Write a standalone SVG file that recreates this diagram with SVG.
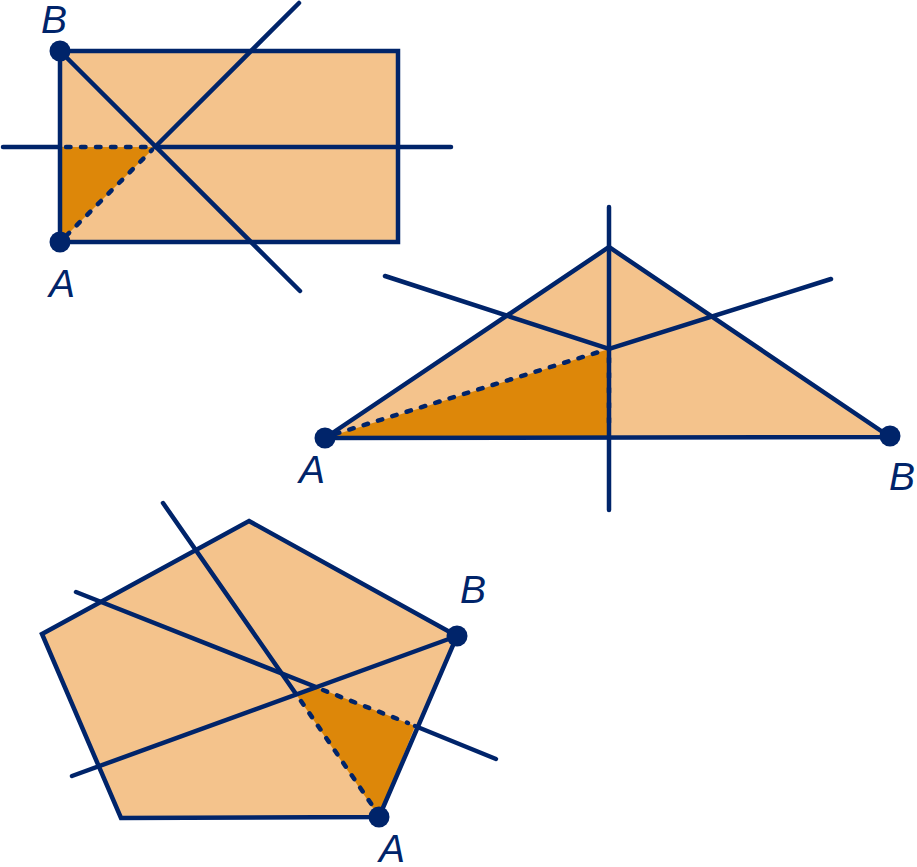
<svg xmlns="http://www.w3.org/2000/svg" width="917" height="867" viewBox="0 0 917 867">
<style>
.light{fill:#F4C38C;stroke:none}
.dark{fill:#DD8709;stroke:none}
.edge{fill:none;stroke:#00246A;stroke-width:4.5;stroke-linejoin:miter}
.ln{fill:none;stroke:#00246A;stroke-width:4.5;stroke-linecap:round}
.dash{fill:none;stroke:#00246A;stroke-width:4.5;stroke-linecap:round;stroke-dasharray:4.5 10.5}
.dot{fill:#00246A}
.lbl{font-family:"Liberation Sans",Arial,sans-serif;font-style:italic;font-size:39px;fill:#00246A}
</style>
<rect width="917" height="867" fill="#ffffff"/>

<g id="rectangle">
  <rect class="light" x="60" y="51" width="338" height="191"/>
  <polygon class="dark" points="60,147 155,147 60,242"/>
  <g id="rect-lines">
    <line class="ln" x1="3" y1="147" x2="60" y2="147"/>
    <line class="ln" x1="155" y1="147" x2="451" y2="147"/>
    <line class="ln" x1="60" y1="51" x2="300" y2="291"/>
    <line class="ln" x1="155" y1="147" x2="299" y2="3"/>
    <line class="dash" x1="66" y1="147" x2="150" y2="147"/>
    <line class="dash" x1="66" y1="236" x2="152" y2="150"/>
  </g>
  <rect class="edge" x="60" y="51" width="338" height="191"/>
  <circle class="dot" cx="60" cy="51" r="10.5"/>
  <circle class="dot" cx="60" cy="242" r="10.5"/>
  <text class="lbl" x="41" y="33">B</text>
  <text class="lbl" x="49" y="297">A</text>
</g>

<g id="triangle">
  <polygon class="light" points="325,438 609,247 890,437"/>
  <polygon class="dark" points="325,438 609,349 609,438"/>
  <g id="triangle-lines">
    <line class="ln" x1="609" y1="207" x2="609" y2="510"/>
    <polyline class="ln" points="385,276 609,349 831,279"/>
    <line class="dash" x1="335" y1="434" x2="602" y2="351"/>
    <line class="dash" x1="609" y1="358" x2="609" y2="430"/>
  </g>
  <polygon class="edge" points="325,438 609,247 890,437"/>
  <circle class="dot" cx="325" cy="438" r="10.5"/>
  <circle class="dot" cx="890" cy="436" r="10.5"/>
  <text class="lbl" x="299" y="483">A</text>
  <text class="lbl" x="889" y="490">B</text>
</g>

<g id="pentagon">
  <polygon class="light" points="249,521 457,636 379,817 121,818 42,634"/>
  <polygon class="dark" points="296,694 316,687 415,726 379,817"/>
  <g id="pentagon-lines">
    <line class="ln" x1="163" y1="503" x2="296" y2="694"/>
    <line class="ln" x1="76" y1="592" x2="316" y2="687"/>
    <line class="ln" x1="415" y1="726" x2="496" y2="759"/>
    <line class="ln" x1="72" y1="776" x2="457" y2="636"/>
    <line class="dash" x1="301" y1="701" x2="374" y2="808"/>
    <line class="dash" x1="323" y1="690" x2="408" y2="723"/>
  </g>
  <polygon class="edge" points="249,521 457,636 379,817 121,818 42,634"/>
  <circle class="dot" cx="457" cy="636" r="10.5"/>
  <circle class="dot" cx="379" cy="817" r="10.5"/>
  <text class="lbl" x="460" y="603">B</text>
  <text class="lbl" x="379" y="862">A</text>
</g>
</svg>
